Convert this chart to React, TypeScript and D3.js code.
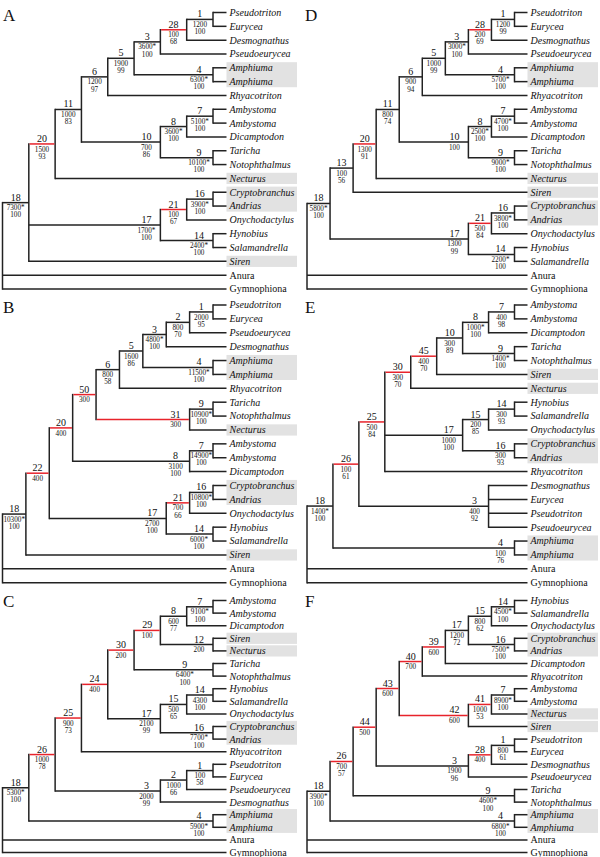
import React from 'react';
import * as d3 from 'd3';

// ---------- DATA ----------
// internal nodes: [node number, parent node number, support values ("a|b"), red branch (1/0)]
// tips: [taxon, parent node number]  (listed top to bottom)
const nodesA = [
  ['18', 'R', '7300*|100', 0], ['20', '18', '1500|93', 1], ['11', '20', '1000|83', 0],
  ['6', '11', '1200|97', 0], ['5', '6', '1900|99', 0], ['3', '5', '3600*|100', 0],
  ['28', '3', '100|68', 1], ['1', '28', '1200|100', 0], ['4', '5', '6300*|100', 0],
  ['10', '11', '700|86', 0], ['8', '10', '3600*|100', 0], ['7', '8', '5100*|100', 0],
  ['9', '10', '10100*|100', 0], ['17', '18', '1700*|100', 0], ['21', '17', '100|67', 1],
  ['16', '21', '3900*|100', 0], ['14', '17', '2400*|100', 0],
];
const tipsA = [
  ['Pseudotriton', '1'], ['Eurycea', '1'], ['Desmognathus', '28'], ['Pseudoeurycea', '3'],
  ['Amphiuma', '4'], ['Amphiuma', '4'], ['Rhyacotriton', '6'], ['Ambystoma', '7'],
  ['Ambystoma', '7'], ['Dicamptodon', '8'], ['Taricha', '9'], ['Notophthalmus', '9'],
  ['Necturus', '20'], ['Cryptobranchus', '16'], ['Andrias', '16'], ['Onychodactylus', '21'],
  ['Hynobius', '14'], ['Salamandrella', '14'], ['Siren', '18'], ['Anura', 'R'], ['Gymnophiona', 'R'],
];

const nodesB = [
  ['18', 'R', '10300*|100', 0], ['22', '18', '400', 1], ['20', '22', '400', 1],
  ['50', '20', '300', 1], ['6', '50', '800|58', 0], ['5', '6', '1600|86', 0],
  ['3', '5', '4800*|100', 0], ['2', '3', '800|70', 0], ['1', '2', '2000|95', 0],
  ['4', '5', '11500*|100', 0], ['31', '50', '300', 1], ['9', '31', '10900*|100', 0],
  ['8', '20', '3100|100', 0], ['7', '8', '14900*|100', 0], ['17', '22', '2700|100', 0],
  ['21', '17', '700|66', 1], ['16', '21', '10800*|100', 0], ['14', '17', '6000*|100', 0],
];
const tipsB = [
  ['Pseudotriton', '1'], ['Eurycea', '1'], ['Pseudoeurycea', '2'], ['Desmognathus', '3'],
  ['Amphiuma', '4'], ['Amphiuma', '4'], ['Rhyacotriton', '6'], ['Taricha', '9'],
  ['Notophthalmus', '9'], ['Necturus', '31'], ['Ambystoma', '7'], ['Ambystoma', '7'],
  ['Dicamptodon', '8'], ['Cryptobranchus', '16'], ['Andrias', '16'], ['Onychodactylus', '21'],
  ['Hynobius', '14'], ['Salamandrella', '14'], ['Siren', '18'], ['Anura', 'R'], ['Gymnophiona', 'R'],
];

const nodesC = [
  ['18', 'R', '5300*|100', 0], ['26', '18', '1000|78', 1], ['25', '26', '900|73', 1],
  ['24', '25', '400', 1], ['30', '24', '200', 1], ['29', '30', '100', 1],
  ['8', '29', '600|77', 0], ['7', '8', '9100*|100', 0], ['12', '29', '200', 0],
  ['9', '30', '6400*|100', 0], ['17', '24', '2100|99', 0], ['15', '17', '500|65', 0],
  ['14', '15', '4300|100', 0], ['16', '17', '7700*|100', 0], ['3', '26', '2000|99', 0],
  ['2', '3', '1000|66', 0], ['1', '2', '100|58', 0], ['4', '18', '5900*|100', 0],
];
const tipsC = [
  ['Ambystoma', '7'], ['Ambystoma', '7'], ['Dicamptodon', '8'], ['Siren', '12'],
  ['Necturus', '12'], ['Taricha', '9'], ['Notophthalmus', '9'], ['Hynobius', '14'],
  ['Salamandrella', '14'], ['Onychodactylus', '15'], ['Cryptobranchus', '16'], ['Andrias', '16'],
  ['Rhyacotriton', '25'], ['Pseudotriton', '1'], ['Eurycea', '1'], ['Pseudoeurycea', '2'],
  ['Desmognathus', '3'], ['Amphiuma', '4'], ['Amphiuma', '4'], ['Anura', 'R'], ['Gymnophiona', 'R'],
];

const nodesD = [
  ['18', 'R', '5800*|100', 0], ['13', '18', '100|56', 0], ['20', '13', '1300|91', 1],
  ['11', '20', '800|74', 0], ['6', '11', '900|94', 0], ['5', '6', '1000|99', 0],
  ['3', '5', '3000*|100', 0], ['28', '3', '200|69', 1], ['1', '28', '1200|99', 0],
  ['4', '5', '5700*|100', 0], ['10', '11', '100', 0], ['8', '10', '2500*|100', 0],
  ['7', '8', '4700*|100', 0], ['9', '10', '9000*|100', 0], ['17', '18', '1300|99', 0],
  ['21', '17', '500|84', 1], ['16', '21', '3800*|100', 0], ['14', '17', '2200*|100', 0],
];
const tipsD = [
  ['Pseudotriton', '1'], ['Eurycea', '1'], ['Desmognathus', '28'], ['Pseudoeurycea', '3'],
  ['Amphiuma', '4'], ['Amphiuma', '4'], ['Rhyacotriton', '6'], ['Ambystoma', '7'],
  ['Ambystoma', '7'], ['Dicamptodon', '8'], ['Taricha', '9'], ['Notophthalmus', '9'],
  ['Necturus', '20'], ['Siren', '13'], ['Cryptobranchus', '16'], ['Andrias', '16'],
  ['Onychodactylus', '21'], ['Hynobius', '14'], ['Salamandrella', '14'], ['Anura', 'R'], ['Gymnophiona', 'R'],
];

const nodesE = [
  ['18', 'R', '1400*|100', 0], ['26', '18', '100|61', 1], ['25', '26', '500|84', 1],
  ['30', '25', '300|70', 1], ['45', '30', '400|70', 1], ['10', '45', '300|89', 0],
  ['8', '10', '1000*|100', 0], ['7', '8', '400|98', 0], ['9', '10', '1400*|100', 0],
  ['17', '25', '1000|100', 0], ['15', '17', '200|85', 0], ['14', '15', '300|93', 0],
  ['16', '17', '300|93', 0], ['3', '26', '400|92', 0], ['4', '18', '100|76', 0],
];
const tipsE = [
  ['Ambystoma', '7'], ['Ambystoma', '7'], ['Dicamptodon', '8'], ['Taricha', '9'],
  ['Notophthalmus', '9'], ['Siren', '45'], ['Necturus', '30'], ['Hynobius', '14'],
  ['Salamandrella', '14'], ['Onychodactylus', '15'], ['Cryptobranchus', '16'], ['Andrias', '16'],
  ['Rhyacotriton', '25'], ['Desmognathus', '3'], ['Eurycea', '3'], ['Pseudotriton', '3'],
  ['Pseudoeurycea', '3'], ['Amphiuma', '4'], ['Amphiuma', '4'], ['Anura', 'R'], ['Gymnophiona', 'R'],
];

const nodesF = [
  ['18', 'R', '3900*|100', 0], ['26', '18', '700|57', 1], ['44', '26', '500', 1],
  ['43', '44', '600', 1], ['40', '43', '700', 1], ['39', '40', '600', 1],
  ['17', '39', '1200|72', 0], ['15', '17', '800|62', 0], ['14', '15', '4500*|100', 0],
  ['16', '17', '7500*|100', 0], ['42', '43', '600', 1], ['41', '42', '1000|53', 1],
  ['7', '41', '8900*|100', 0], ['3', '44', '1900|96', 0], ['28', '3', '400', 1],
  ['1', '28', '800|61', 0], ['9', '26', '4600*|100', 0], ['4', '18', '6800*|100', 0],
];
const tipsF = [
  ['Hynobius', '14'], ['Salamandrella', '14'], ['Onychodactylus', '15'], ['Cryptobranchus', '16'],
  ['Andrias', '16'], ['Dicamptodon', '39'], ['Rhyacotriton', '40'], ['Ambystoma', '7'],
  ['Ambystoma', '7'], ['Necturus', '41'], ['Siren', '42'], ['Pseudotriton', '1'],
  ['Eurycea', '1'], ['Desmognathus', '28'], ['Pseudoeurycea', '3'], ['Taricha', '9'],
  ['Notophthalmus', '9'], ['Amphiuma', '4'], ['Amphiuma', '4'], ['Anura', 'R'], ['Gymnophiona', 'R'],
];

const panelLetters = ['A', 'B', 'C', 'D', 'E', 'F'];
const plainTaxa = ['Anura', 'Gymnophiona'];
// shaded taxa and the shaded box they belong to
const shadeTaxa = ['Amphiuma', 'Necturus', 'Siren', 'Cryptobranchus', 'Andrias'];
const shadeBoxKey = ['amph', 'nect', 'siren', 'crypt', 'crypt'];

// ---------- LAYOUT ----------
const cols = [
  { rootX: 2.5, h1X: 213, tipEnd: 226.5, boxR: 297, letterX: 3 },
  { rootX: 307, h1X: 514.5, tipEnd: 527.5, boxR: 598, letterX: 305 },
];
const rows = [
  { y0: 12.5, y1: 289, letterY: 20.5 },
  { y0: 305, y1: 582.7, letterY: 312.5 },
  { y0: 600.5, y1: 852.5, letterY: 607 },
];
const panels = [
  { nodes: nodesA, tips: tipsA, col: 0, row: 0 },
  { nodes: nodesB, tips: tipsB, col: 0, row: 1 },
  { nodes: nodesC, tips: tipsC, col: 0, row: 2 },
  { nodes: nodesD, tips: tipsD, col: 1, row: 0 },
  { nodes: nodesE, tips: tipsE, col: 1, row: 1 },
  { nodes: nodesF, tips: tipsF, col: 1, row: 2 },
];

const INK = '#222';
const RED = '#e8232b';
const SHADE = '#e2e2e2';
const SW = 1.5;
const NUM_FS = 10;
const VAL_FS = 7.2;
const VAL_DY0 = 7.6;
const VAL_DY = 7.1;

function Tree({ p, letter }: any) {
  const col = cols[p.col];
  const row = rows[p.row];
  const data: any[] = [
    { id: 'R', parentId: null },
    ...p.nodes.map((r: any) => ({ id: r[0], parentId: r[1], vals: r[2].split('|'), red: !!r[3] })),
    ...p.tips.map((t: any, i: number) => ({ id: 't' + i, parentId: t[1], name: t[0], idx: i })),
  ];
  const root: any = d3.stratify<any>().id((d) => d.id).parentId((d) => d.parentId)(data);
  root.eachAfter((n: any) => {
    n.minIdx = n.children ? d3.min(n.children, (c: any) => c.minIdx) : n.data.idx;
  });
  root.sort((a: any, b: any) => a.minIdx - b.minIdx);
  root.eachAfter((n: any) => {
    if (!n.children) n.ht = 0;
    else if (n.children.every((c: any) => !c.children)) n.ht = Math.ceil(Math.log2(n.children.length));
    else n.ht = (d3.max(n.children, (c: any) => c.ht) as number) + 1;
  });
  const xs = d3.scaleLinear().domain([root.ht, 1]).range([col.rootX, col.h1X]);
  const ys = d3.scaleLinear().domain([0, p.tips.length - 1]).range([row.y0, row.y1]);
  root.eachAfter((n: any) => {
    if (!n.children) {
      n.x = col.tipEnd;
      n.y = ys(n.data.idx);
    } else {
      n.x = xs(n.ht);
      n.y = (n.children[0].y + n.children[n.children.length - 1].y) / 2;
    }
  });

  const all = root.descendants();
  const leaves = root.leaves();

  // node labels, with a simple left shift when a value block would touch a number below
  const labels = all
    .filter((n: any) => n.children && n.parent)
    .map((n: any) => {
      const cx = Math.max((n.parent.x + n.x) / 2, n.x - 14);
      const valW = (d3.max(n.data.vals, (v: string) => v.length) as number) * VAL_FS * 0.5;
      const numW = n.data.id.length * NUM_FS * 0.5;
      return {
        n, cx, valW, numW,
        numTop: n.y - 2 - NUM_FS * 0.9,
        valBottom: n.y + VAL_DY0 + (n.data.vals.length - 1) * VAL_DY + VAL_FS * 0.25,
      };
    })
    .sort((a: any, b: any) => a.n.y - b.n.y);
  labels.forEach((a: any) => {
    labels.forEach((b: any) => {
      if (b === a || b.n.y <= a.n.y) return;
      const vOverlap = a.valBottom > b.numTop && a.n.y < b.n.y;
      const hOverlap = a.cx + a.valW / 2 > b.cx - b.numW / 2 && a.cx - a.valW / 2 < b.cx + b.numW / 2;
      if (vOverlap && hOverlap) a.cx = b.cx - b.numW / 2 - 1 - a.valW / 2;
    });
  });

  // shaded boxes
  const boxes: { key: string; a: number; b: number }[] = [];
  leaves.forEach((l: any) => {
    const k = shadeTaxa.indexOf(l.data.name);
    const key = k >= 0 ? shadeBoxKey[k] : '';
    const last = boxes[boxes.length - 1];
    if (key && last && last.key === key && last.b === l.data.idx - 1) last.b = l.data.idx;
    else if (key) boxes.push({ key, a: l.data.idx, b: l.data.idx });
  });

  const hLines = all.filter((n: any) => n.parent);
  return (
    <g>
      {boxes.map((b, i) => (
        <rect key={'b' + i} x={col.tipEnd} width={col.boxR - col.tipEnd}
          y={ys(b.a) - 5.6} height={ys(b.b) - ys(b.a) + 11.2} fill={SHADE} />
      ))}
      {all.filter((n: any) => n.children).map((n: any, i: number) => (
        <line key={'v' + i} x1={n.x} x2={n.x}
          y1={n.children[0].y - SW / 2} y2={n.children[n.children.length - 1].y + SW / 2}
          stroke={INK} strokeWidth={SW} />
      ))}
      {hLines.filter((n: any) => !n.data.red).map((n: any, i: number) => (
        <line key={'h' + i} x1={n.parent.x} x2={n.x} y1={n.y} y2={n.y} stroke={INK} strokeWidth={SW} />
      ))}
      {hLines.filter((n: any) => n.data.red).map((n: any, i: number) => (
        <line key={'r' + i} x1={n.parent.x + SW / 2} x2={n.x - SW / 2} y1={n.y} y2={n.y} stroke={RED} strokeWidth={SW} />
      ))}
      {labels.map((L: any, i: number) => (
        <g key={'l' + i} textAnchor="middle" fill="#111">
          <text x={L.cx} y={L.n.y - 2} fontSize={NUM_FS}>{L.n.data.id}</text>
          {L.n.data.vals.map((v: string, j: number) => (
            <text key={j} x={L.cx} y={L.n.y + VAL_DY0 + j * VAL_DY} fontSize={VAL_FS}>{v}</text>
          ))}
        </g>
      ))}
      {leaves.map((l: any, i: number) => (
        <text key={'t' + i} x={col.tipEnd + 3} y={l.y + 3.4} fontSize={10}
          fontStyle={plainTaxa.includes(l.data.name) ? 'normal' : 'italic'} fill="#111">
          {l.data.name}
        </text>
      ))}
      <text x={col.letterX} y={row.letterY} fontSize={17} fill="#111">{letter}</text>
    </g>
  );
}

export default function App() {
  return (
    <svg width={600} height={857} viewBox="0 0 600 857"
      style={{ position: 'absolute', left: 0, top: 0, background: '#fff' }}
      fontFamily="'Liberation Serif', 'Times New Roman', serif">
      <rect width={600} height={857} fill="#fff" />
      {panels.map((p, i) => (
        <Tree key={i} p={p} letter={panelLetters[i]} />
      ))}
    </svg>
  );
}
